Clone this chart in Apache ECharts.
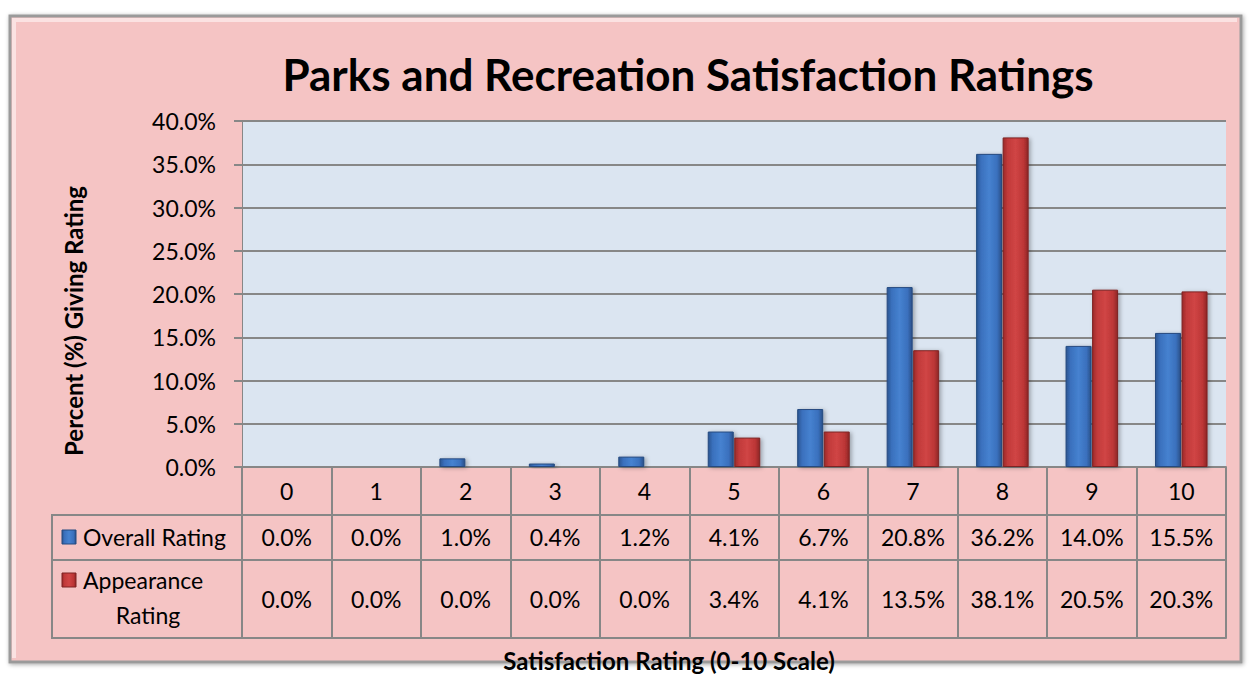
<!DOCTYPE html>
<html>
<head>
<meta charset="utf-8">
<script src="https://cdn.jsdelivr.net/npm/echarts@6/dist/echarts.min.js"></script>
<style>
  html, body { margin: 0; padding: 0; background: #ffffff; }
  #chart { width: 1249px; height: 675px; }
</style>
</head>
<body>
<div id="chart"></div>
<script>
// ---- Data ----
const categories = ['0', '1', '2', '3', '4', '5', '6', '7', '8', '9', '10'];
const overallRating = [0.0, 0.0, 1.0, 0.4, 1.2, 4.1, 6.7, 20.8, 36.2, 14.0, 15.5];
const appearanceRating = [0.0, 0.0, 0.0, 0.0, 0.0, 3.4, 4.1, 13.5, 38.1, 20.5, 20.3];
const seriesNames = ['Overall Rating', 'Appearance Rating'];
const yTicks = { min: 0, max: 40, interval: 5 };
const titleText = 'Parks and Recreation Satisfaction Ratings';
const xTitle = 'Satisfaction Rating (0-10 Scale)';
const yTitle = 'Percent (%) Giving Rating';

// ---- Layout ----
const W = 1249, H = 675;
const gridL = 242, gridR = 1226, gridT = 121, gridB = 467;
const row0H = 48, row1H = 45, row2H = 78;
const legendL = 52;
const FONT = 'Lato, "Open Sans", "Noto Sans", sans-serif';
const GRID_COLOR = '#878787';
const LBL = 23;
const fmt = v => v.toFixed(1) + '%';

const blueGrad = new echarts.graphic.LinearGradient(0, 0, 1, 0, [
  { offset: 0, color: '#2b5591' },
  { offset: 0.18, color: '#3a70bd' },
  { offset: 0.5, color: '#4682d0' },
  { offset: 0.82, color: '#3a70bd' },
  { offset: 1, color: '#2a5088' }
]);
const redGrad = new echarts.graphic.LinearGradient(0, 0, 1, 0, [
  { offset: 0, color: '#9a2a2a' },
  { offset: 0.18, color: '#c13a3a' },
  { offset: 0.5, color: '#d04545' },
  { offset: 0.82, color: '#bc3636' },
  { offset: 1, color: '#8e2626' }
]);

const chart = echarts.init(document.getElementById('chart'), null, { renderer: 'svg', width: W, height: H });

const labelBase = { color: '#000', fontFamily: FONT, fontSize: LBL, verticalAlign: 'middle' };
const lineStyle = { color: GRID_COLOR, width: 2 };

const option = {
  backgroundColor: '#ffffff',
  animation: false,
  title: [
    {
      text: titleText,
      left: 683, top: 47, textAlign: 'center',
      textStyle: { fontFamily: FONT, fontWeight: 'bold', fontSize: 44, color: '#000' }
    },
    {
      text: xTitle,
      left: 664, top: 643, textAlign: 'center',
      textStyle: { fontFamily: FONT, fontWeight: 'bold', fontSize: 24, color: '#000' }
    }
  ],
  grid: {
    left: gridL, top: gridT, width: gridR - gridL, height: gridB - gridT,
    show: true, backgroundColor: '#dbe5f1', borderWidth: 0
  },
  xAxis: [
    {
      type: 'category', data: categories, position: 'bottom', offset: 0,
      axisLine: { show: true, lineStyle },
      axisTick: { show: true, length: row0H, lineStyle },
      axisLabel: Object.assign({ margin: 24, interval: 0 }, labelBase)
    },
    {
      type: 'category', data: overallRating.map(fmt), position: 'bottom', offset: row0H,
      axisLine: { show: true, lineStyle },
      axisTick: { show: true, length: row1H, lineStyle },
      axisLabel: Object.assign({ margin: 22, interval: 0 }, labelBase)
    },
    {
      type: 'category', data: appearanceRating.map(fmt), position: 'bottom', offset: row0H + row1H,
      axisLine: { show: true, lineStyle },
      axisTick: { show: true, length: row2H, lineStyle },
      axisLabel: Object.assign({ margin: 39, interval: 0 }, labelBase)
    },
    {
      type: 'category', data: categories, position: 'bottom', offset: row0H + row1H + row2H,
      axisLine: { show: true, lineStyle },
      axisTick: { show: false },
      axisLabel: { show: false }
    }
  ],
  yAxis: {
    type: 'value', min: yTicks.min, max: yTicks.max, interval: yTicks.interval,
    axisLine: { show: true, lineStyle: { color: GRID_COLOR, width: 1 } },
    axisTick: { show: true, length: 8, lineStyle },
    axisLabel: { formatter: v => v.toFixed(1) + '%', margin: 26, color: '#000', fontFamily: FONT, fontSize: LBL },
    splitLine: { show: true, lineStyle }
  },
  series: [
    {
      name: seriesNames[0], type: 'bar', data: overallRating, xAxisIndex: 0,
      barWidth: 26, barGap: '2%',
      itemStyle: { color: blueGrad, borderColor: '#254a80', borderWidth: 1,
        shadowColor: 'rgba(0,0,0,0.3)', shadowBlur: 4, shadowOffsetX: 2, shadowOffsetY: 1 }
    },
    {
      name: seriesNames[1], type: 'bar', data: appearanceRating, xAxisIndex: 0,
      barWidth: 26, barGap: '2%',
      itemStyle: { color: redGrad, borderColor: '#7e2222', borderWidth: 1,
        shadowColor: 'rgba(0,0,0,0.3)', shadowBlur: 4, shadowOffsetX: 2, shadowOffsetY: 1 }
    }
  ],
  graphic: [
    // outer pink frame
    {
      type: 'rect', z: -10, silent: true,
      shape: { x: 10, y: 16, width: 1231, height: 646 },
      style: { fill: '#f5c4c4', stroke: '#9a9a9a', lineWidth: 3,
        shadowColor: 'rgba(0,0,0,0.35)', shadowBlur: 4, shadowOffsetX: 1, shadowOffsetY: 1 }
    },
    {
      type: 'polyline', z: -9, silent: true,
      shape: { points: [[14, 658], [14, 20], [1237, 20]] },
      style: { stroke: '#fbe2e2', lineWidth: 4, fill: null }
    },
    // y-axis title
    {
      type: 'text', silent: true, x: 73, y: 321, rotation: Math.PI / 2,
      style: { text: yTitle, fill: '#000', fontFamily: FONT, fontWeight: 'bold', fontSize: 24, align: 'center', verticalAlign: 'middle' }
    },
    // legend column borders
    {
      type: 'polyline', silent: true,
      shape: { points: [[gridL, gridB + row0H], [legendL, gridB + row0H], [legendL, gridB + row0H + row1H + row2H], [gridL, gridB + row0H + row1H + row2H]] },
      style: { stroke: GRID_COLOR, lineWidth: 2, fill: null }
    },
    {
      type: 'line', silent: true,
      shape: { x1: legendL, y1: gridB + row0H + row1H, x2: gridL, y2: gridB + row0H + row1H },
      style: { stroke: GRID_COLOR, lineWidth: 2 }
    },
    // legend keys
    {
      type: 'rect', silent: true,
      shape: { x: 62, y: 530, width: 14, height: 14 },
      style: { fill: blueGrad, stroke: '#254a80', lineWidth: 1 }
    },
    {
      type: 'text', silent: true,
      style: { x: 83, y: 537, text: seriesNames[0], fill: '#000', fontFamily: FONT, fontSize: LBL, verticalAlign: 'middle', align: 'left' }
    },
    {
      type: 'rect', silent: true,
      shape: { x: 62, y: 573, width: 14, height: 14 },
      style: { fill: redGrad, stroke: '#7e2222', lineWidth: 1 }
    },
    {
      type: 'text', silent: true,
      style: { x: 83, y: 580, text: 'Appearance', fill: '#000', fontFamily: FONT, fontSize: LBL, verticalAlign: 'middle', align: 'left' }
    },
    {
      type: 'text', silent: true,
      style: { x: 148, y: 615, text: 'Rating', fill: '#000', fontFamily: FONT, fontSize: LBL, verticalAlign: 'middle', align: 'center' }
    }
  ]
};

chart.setOption(option);
</script>
</body>
</html>
